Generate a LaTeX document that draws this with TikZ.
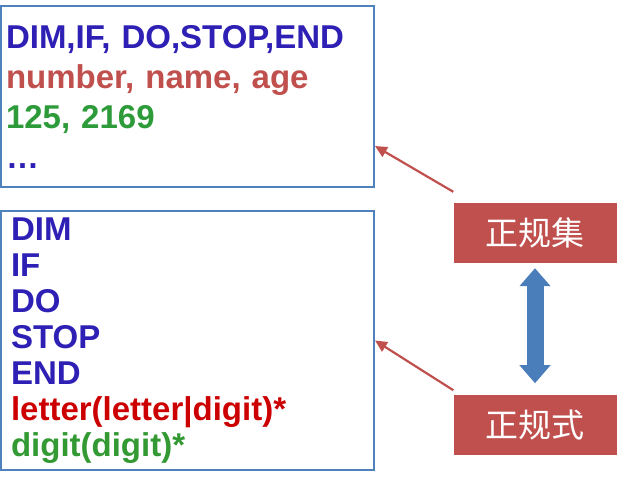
\documentclass[tikz,border=0pt]{standalone}
\usepackage{fontspec}
\setmainfont{Liberation Sans}
\newfontfamily\cjk{Noto Sans CJK SC}
\usetikzlibrary{positioning,arrows.meta}
\definecolor{boxblue}{HTML}{4F81BD}
\definecolor{kwblue}{HTML}{2E20B4}
\definecolor{idred}{HTML}{C0504D}
\definecolor{numgreen}{HTML}{2E9B3A}
\definecolor{rexred}{HTML}{CC0000}
\definecolor{rexgreen}{HTML}{339933}
\definecolor{tagred}{HTML}{C0504D}
\definecolor{dblblue}{HTML}{4A7EBB}
\frenchspacing
\begin{document}
\begin{tikzpicture}[x=1pt, y=-1pt,
  textbox/.style={rectangle, draw=boxblue, line width=2pt, minimum width=373pt, align=left, font=\bfseries},
  tagbox/.style={rectangle, fill=tagred, text=white, minimum width=163pt, minimum height=60pt, font=\cjk\fontsize{33}{40}\selectfont},
  pointer/.style={-{Triangle[length=12pt,width=11pt]}, draw=tagred, line width=2.2pt}]
  \useasboundingbox (0,0) rectangle (620,480);

  % Kasten mit Beispielen
  \node [textbox, inner xsep=5pt, text width=363pt, minimum height=181pt, font=\bfseries\fontsize{33}{40}\selectfont] (setlist) at (187.5,96.5)
    {\textcolor{kwblue}{DIM,IF, DO,STOP,END}\\
     \textcolor{idred}{number, name, age}\\
     \textcolor{numgreen}{125, 2169}\\
     \textcolor{kwblue}{…}};
  \node [textbox, inner xsep=10pt, text width=353pt, minimum height=259pt, font=\bfseries\fontsize{33}{36}\selectfont] (rexlist) at (187.5,340.5)
    {\textcolor{kwblue}{DIM}\\
     \textcolor{kwblue}{IF}\\
     \textcolor{kwblue}{DO}\\
     \textcolor{kwblue}{STOP}\\
     \textcolor{kwblue}{END}\\
     \textcolor{rexred}{letter(letter|digit)*}\\
     \textcolor{rexgreen}{digit(digit)*}};

  % Rote Etiketten
  \node [tagbox] (settag) at (535,233) {正规集};
  \node [tagbox, below=132pt of settag] (rextag) {正规式};

  % Pfeile
  \draw [pointer] ([yshift=11pt]settag.north west) -- ([yshift=42pt]setlist.south east);
  \draw [pointer] ([yshift=5pt]rextag.north west) -- (rexlist.east);
  \draw [line width=17pt, draw=dblblue, {Triangle[length=18pt,width=30pt]}-{Triangle[length=18pt,width=30pt]}, shorten <=5pt, shorten >=12pt] (settag.south) -- (rextag.north);
\end{tikzpicture}
\end{document}
